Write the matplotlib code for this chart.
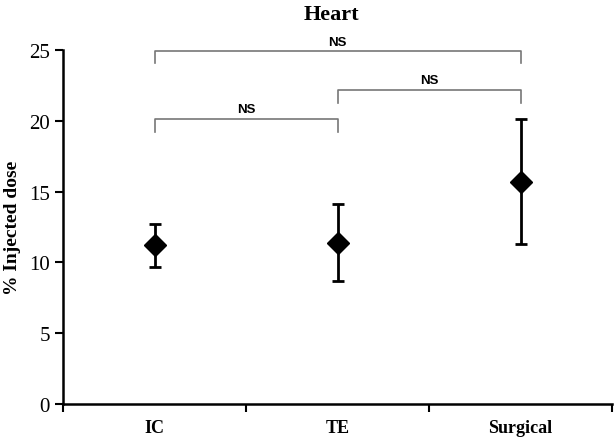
import matplotlib.pyplot as plt
import numpy as np

# Data
groups = ["IC", "TE", "Surgical"]
means = [11.2, 11.4, 15.7]
errors = [1.5, 2.7, 4.4]

# Comparisons: (group a, group b, bar height, drop, label height)
comparisons = [(0, 2, 24.9, 24.1, 25.55),
               (1, 2, 22.15, 21.25, 22.9),
               (0, 1, 20.1, 19.2, 20.8)]

plt.rcParams['font.family'] = ['Liberation Serif', 'DejaVu Serif']

fig = plt.figure(figsize=(6.14, 4.39), dpi=100)
ax = fig.add_axes([63 / 614, 1 - 405 / 439, (612 - 63) / 614, (405 - 51) / 439])

x = np.arange(len(groups)) + 0.5
ax.errorbar(x, means, yerr=errors, fmt='D', color='black', markersize=11,
            elinewidth=2, capsize=4, capthick=2, clip_on=False)

# Significance brackets
for a, b, top, drop, ty in comparisons:
    xa, xb = x[a], x[b]
    ax.plot([xa, xa, xb, xb], [drop, top, top, drop], color='#777777',
            linewidth=1.2, clip_on=False)
    ax.text((xa + xb) / 2, ty, "NS", ha='center', va='center',
            fontsize=9.5, fontweight='bold', family='Liberation Sans')

ax.set_xlim(0, 3)
ax.set_ylim(0, 25)
ax.set_yticks([0, 5, 10, 15, 20, 25])
ax.tick_params(axis='y', labelsize=15, width=1.5, length=6)

ax.set_xticks([0, 1, 2, 3])
ax.set_xticklabels([])
ax.set_xticks(x, minor=True)
ax.set_xticklabels(groups, minor=True, fontsize=13, fontweight='bold')
ax.tick_params(axis='x', which='major', width=1.5, length=6)
ax.tick_params(axis='x', which='minor', length=0, pad=11)

for side in ['top', 'right']:
    ax.spines[side].set_visible(False)
for side in ['left', 'bottom']:
    ax.spines[side].set_linewidth(1.8)

ax.set_ylabel('% Injected dose', fontsize=14, fontweight='bold', labelpad=6)
fig.text(0.54, 0.965, 'Heart', ha='center', va='center', fontsize=16, fontweight='bold')

fig.savefig('out.png', dpi=100)
